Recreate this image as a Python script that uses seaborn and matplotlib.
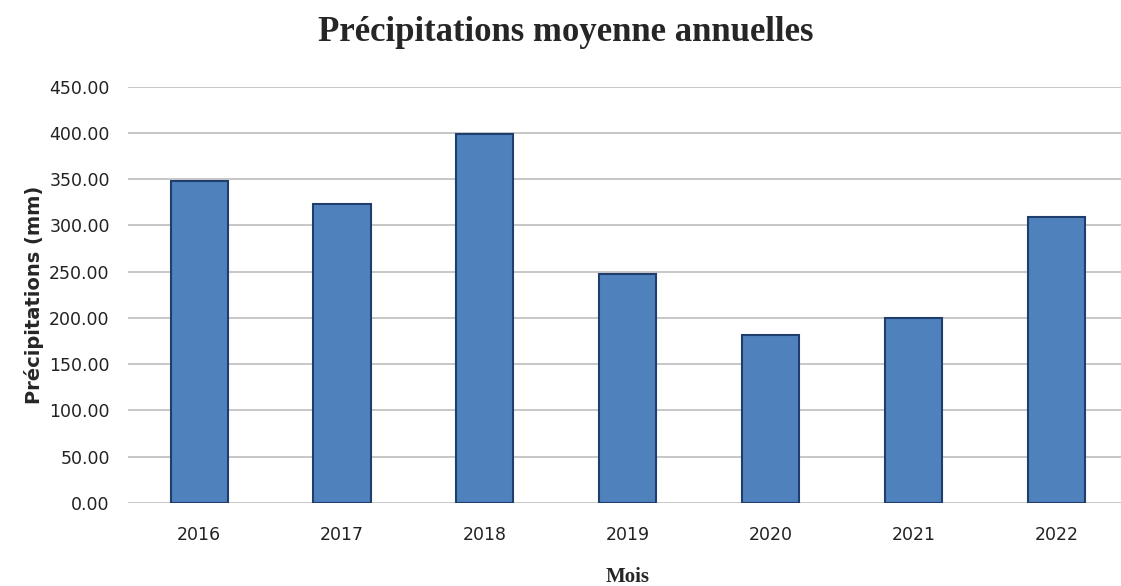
import matplotlib
matplotlib.use("Agg")
import matplotlib.pyplot as plt
import seaborn as sns
import pandas as pd
from matplotlib.ticker import FuncFormatter, MultipleLocator

years = ["2016", "2017", "2018", "2019", "2020", "2021", "2022"]
precip = [348, 323, 399, 247, 182, 200, 309]

df = pd.DataFrame({"year": years, "precip": precip})

sns.set_theme(style="white")
plt.rcParams["font.family"] = ["DejaVu Sans"]

fig = plt.figure(figsize=(11.21, 5.86), dpi=100)
ax = fig.add_axes([0.114, 0.142, 0.892, 0.71])

sns.barplot(data=df, x="year", y="precip", color="#4F81BD", width=0.4,
            edgecolor="#1F3E6E", linewidth=1.5, saturation=1, ax=ax, zorder=3)

ax.set_ylim(0, 450)
ax.set_xlim(-0.5, 6.5)
ax.yaxis.set_major_locator(MultipleLocator(50))
ax.yaxis.set_major_formatter(FuncFormatter(lambda v, p: f"{v:.2f}"))
ax.grid(axis="y", color="#BDBDBD", linewidth=1.2, zorder=0)
ax.set_axisbelow(True)
for s in ax.spines.values():
    s.set_visible(False)
ax.tick_params(axis="both", length=0, labelsize=12.5, colors="#222222")
ax.tick_params(axis="y", pad=13)
ax.tick_params(axis="x", pad=17)

ax.set_xlabel("Mois", fontfamily="Liberation Serif", fontweight="bold", fontsize=15, labelpad=16)
ax.set_ylabel("Précipitations (mm)", fontweight="bold", fontsize=14, labelpad=4)
fig.suptitle("Précipitations moyenne annuelles", fontfamily="Liberation Serif",
             fontweight="bold", fontsize=25, x=0.505, y=0.972)

fig.savefig("out.png", dpi=100)
